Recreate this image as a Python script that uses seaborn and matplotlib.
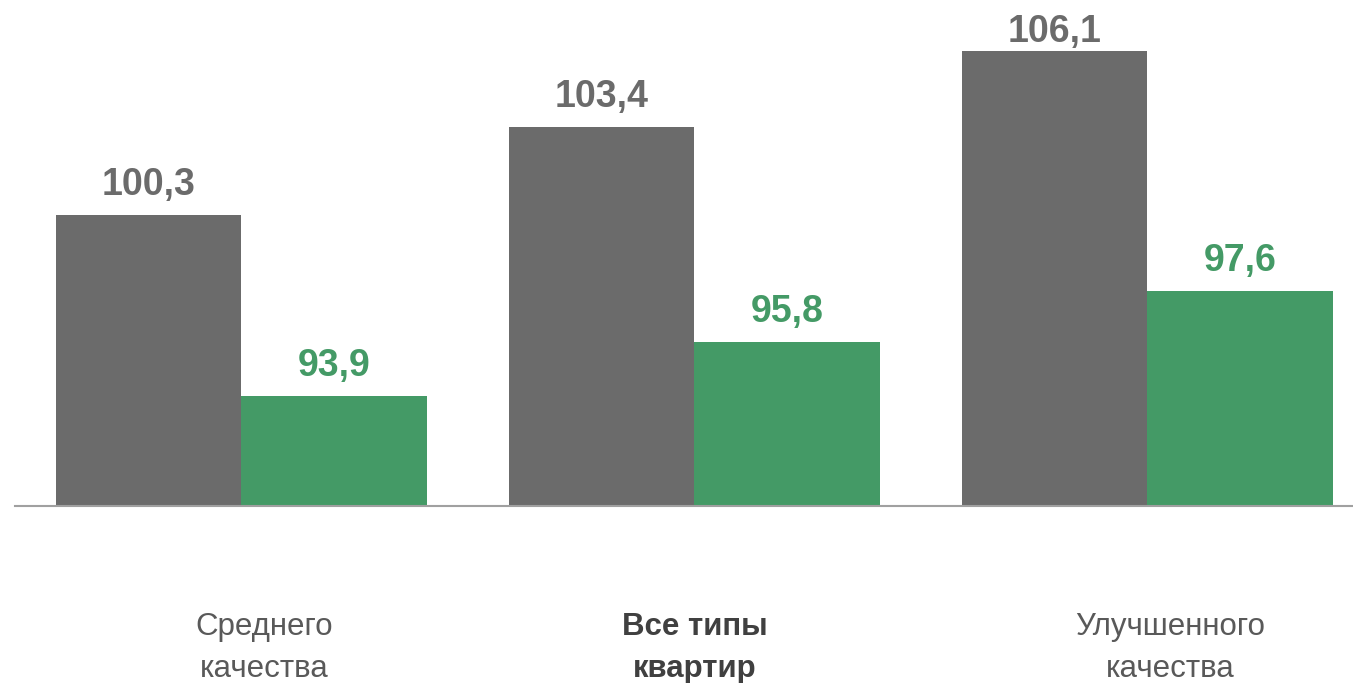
import matplotlib

matplotlib.use("Agg")
import matplotlib.pyplot as plt
import matplotlib.transforms as mtransforms
import pandas as pd
import seaborn as sns

# данные
categories = ["Среднего\nкачества", "Все типы\nквартир", "Улучшенного\nкачества"]
series_names = ["Ряд 1", "Ряд 2"]
values_grey = [100.3, 103.4, 106.1]
values_green = [93.9, 95.8, 97.6]

bar_colors = ["#6b6b6b", "#449a66"]

df = pd.DataFrame(
    {
        "cat": categories * 2,
        "series": [series_names[0]] * 3 + [series_names[1]] * 3,
        "value": values_grey + values_green,
    }
)

sns.set_theme(style="white")
plt.rcParams["font.family"] = ["Liberation Sans", "DejaVu Sans"]

fig = plt.figure(figsize=(13.53, 6.83), dpi=100)
ax = fig.add_axes([15 / 1353, 177 / 683, 1359 / 1353, 506 / 683])

sns.barplot(
    data=df,
    x="cat",
    y="value",
    hue="series",
    palette=bar_colors,
    width=0.821,
    gap=0,
    saturation=1,
    legend=False,
    ax=ax,
    linewidth=0,
)

ymin, ymax = 90, 107.9
ax.set_xlim(-0.5, 2.5)
ax.set_ylim(ymin, ymax)

# подписи значений (над столбцом, но не выше верхнего края)
label_gap = 0.71
label_max = ymax - 1.5
for container, col in zip(ax.containers, bar_colors):
    for bar in container:
        h = bar.get_height()
        ax.text(
            bar.get_x() + bar.get_width() / 2,
            min(h + label_gap, label_max),
            f"{h:.1f}".replace(".", ","),
            ha="center",
            va="baseline",
            fontsize=27,
            fontweight="bold",
            color=col,
        )

# ось
for s in ["top", "right", "left"]:
    ax.spines[s].set_visible(False)
ax.spines["bottom"].set_color("#a0a0a0")
ax.spines["bottom"].set_linewidth(1.5)
ax.set_yticks([])
ax.set_xticks([])
ax.set_xlabel("")
ax.set_ylabel("")

# подписи категорий
trans = mtransforms.blended_transform_factory(ax.transData, fig.transFigure)
label_x = [0.05, 0.0, 0.05]
for i, (cat, dx) in enumerate(zip(categories, label_x)):
    bold = i == 1
    ax.text(
        i + dx,
        1 - 648 / 683,
        cat,
        transform=trans,
        ha="center",
        va="center",
        fontsize=22.5,
        linespacing=1.5,
        fontweight="bold" if bold else "normal",
        color="#404040" if bold else "#595959",
    )

fig.savefig("out.png", dpi=100)
